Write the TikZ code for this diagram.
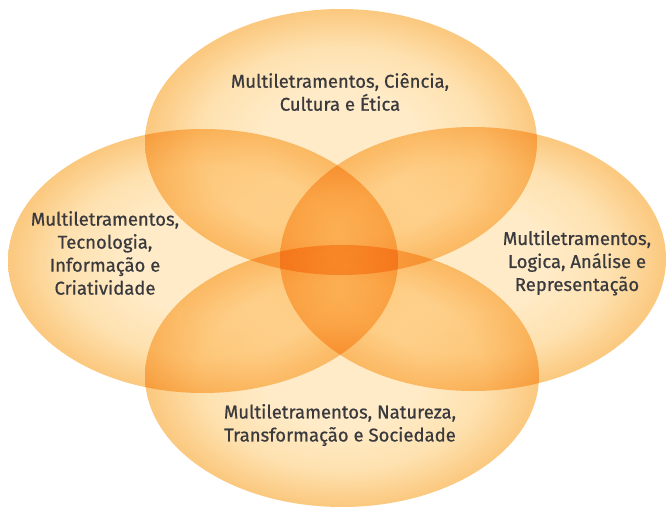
\documentclass[tikz,border=0pt]{standalone}
\usepackage{fontspec}
\newfontfamily\lblfont[FakeBold=0.7]{Fira Sans}
\usetikzlibrary{shapes.geometric}
\definecolor{ellin}{RGB}{255,235,199}
\definecolor{ellmid}{RGB}{254,225,175}
\definecolor{ellout}{RGB}{251,200,126}
\definecolor{txt}{RGB}{58,58,62}
\pgfdeclareradialshading{ellshade}{\pgfpoint{0bp}{0bp}}{%
  color(0bp)=(ellin); color(10bp)=(ellin); color(18bp)=(ellmid); color(25bp)=(ellout); color(50bp)=(ellout)}
\begin{document}
\begin{tikzpicture}[x=1pt,y=-1pt,
  lbl/.style={align=center, text=txt, font=\lblfont\fontsize{18.5}{23}\selectfont}]
\useasboundingbox (0,0) rectangle (667,508);
\begin{scope}[blend mode=multiply]
\path[shading=ellshade] (341,142) ellipse [x radius=196, y radius=133];
\path[shading=ellshade] (203,261) ellipse [x radius=195, y radius=132];
\path[shading=ellshade] (473,259) ellipse [x radius=193, y radius=132];
\path[shading=ellshade] (342,376) ellipse [x radius=197, y radius=131];
\end{scope}
\node[lbl] (t) at (340,92) {Multiletramentos, Ciência,\\Cultura e Ética};
\node[lbl] (l) at (105,253) {Multiletramentos,\\Tecnologia,\\Informação e\\Criatividade};
\node[lbl] (r) at (577,263) {Multiletramentos,\\Logica, Análise e\\Representação};
\node[lbl] (b) at (340,425) {Multiletramentos, Natureza,\\Transformação e Sociedade};
\end{tikzpicture}
\end{document}
